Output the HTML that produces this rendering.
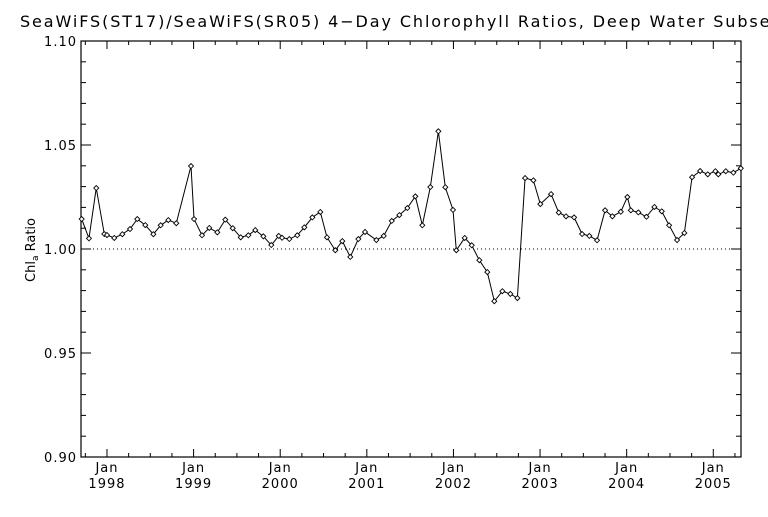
<!DOCTYPE html>
<html><head><meta charset="utf-8"><style>
body{margin:0;background:#fff;}
svg text{font-family:"DejaVu Sans","Liberation Sans",sans-serif;fill:#000;}
</style></head><body>
<svg id="chart" width="768" height="512" xmlns="http://www.w3.org/2000/svg">
<text x="20" y="27" font-size="16" letter-spacing="1.9">SeaWiFS(ST17)/SeaWiFS(SR05) 4−Day Chlorophyll Ratios, Deep Water Subset</text>
<text transform="translate(35,250) rotate(-90)" text-anchor="middle" font-size="13">Chl<tspan font-size="9" dy="3">a</tspan><tspan dy="-3"> Ratio</tspan></text>
<g id="axes"></g><g id="series"></g>
</svg>
<script>
const dates=[1997.708,1997.792,1997.876,1997.969,1998.000,1998.084,1998.177,1998.266,1998.350,1998.442,1998.535,1998.620,1998.708,1998.800,1998.970,1999.005,1999.097,1999.181,1999.274,1999.366,1999.452,1999.544,1999.632,1999.712,1999.805,1999.897,1999.983,2000.021,2000.105,2000.197,2000.278,2000.371,2000.463,2000.540,2000.636,2000.717,2000.809,2000.902,2000.979,2001.110,2001.195,2001.288,2001.375,2001.468,2001.560,2001.641,2001.733,2001.826,2001.906,2001.995,2002.033,2002.130,2002.211,2002.299,2002.391,2002.472,2002.565,2002.657,2002.738,2002.827,2002.923,2003.003,2003.127,2003.216,2003.300,2003.393,2003.485,2003.569,2003.658,2003.751,2003.835,2003.932,2004.008,2004.048,2004.135,2004.228,2004.320,2004.405,2004.490,2004.582,2004.666,2004.755,2004.848,2004.936,2005.024,2005.058,2005.144,2005.232,2005.318];
const ratios=[1.0144,1.0051,1.0293,1.0072,1.0067,1.0053,1.0071,1.0096,1.0144,1.0115,1.0071,1.0114,1.0139,1.0124,1.0399,1.0144,1.0066,1.0101,1.0080,1.0141,1.0100,1.0056,1.0066,1.0091,1.0061,1.0019,1.0063,1.0054,1.0048,1.0066,1.0104,1.0152,1.0178,1.0056,0.9994,1.0038,0.9962,1.0048,1.0082,1.0043,1.0063,1.0135,1.0163,1.0197,1.0253,1.0114,1.0298,1.0566,1.0297,1.0188,0.9994,1.0053,1.0018,0.9946,0.9889,0.9749,0.9797,0.9784,0.9764,1.0341,1.0330,1.0216,1.0264,1.0175,1.0157,1.0152,1.0072,1.0063,1.0042,1.0186,1.0157,1.0179,1.0250,1.0186,1.0176,1.0155,1.0202,1.0181,1.0114,1.0043,1.0077,1.0345,1.0375,1.0359,1.0374,1.0359,1.0374,1.0367,1.0388];
const yTickLabels=["0.90","0.95","1.00","1.05","1.10"];
const yearLabels=["1998","1999","2000","2001","2002","2003","2004","2005"];
const L=81,R=741,T=41,B=457,x0=1997.70,x1=2005.32,y0=0.90,y1=1.10;
const X=v=>L+(v-x0)/(x1-x0)*(R-L), Y=v=>B-(v-y0)/(y1-y0)*(B-T);
const NS="http://www.w3.org/2000/svg";
const ax=document.getElementById('axes'), se=document.getElementById('series');
function mk(p,tag,at){const e=document.createElementNS(NS,tag);for(const k in at)e.setAttribute(k,at[k]);p.appendChild(e);return e;}
const fr=mk(ax,'rect',{x:L,y:T,width:R-L,height:B-T,fill:'none',stroke:'#000','stroke-width':1.2});


for(let i=0;i<=20;i++){const v=y0+i*0.01,y=Y(v),len=i%5===0?10:5;
 mk(ax,'line',{x1:L,x2:L+len,y1:y,y2:y,stroke:'#000'});
 mk(ax,'line',{x1:R,x2:R-len,y1:y,y2:y,stroke:'#000'});}
yTickLabels.forEach(s=>{const t=mk(ax,'text',{x:L-4,y:Y(+s)+5,'text-anchor':'end','font-size':13,'letter-spacing':1});t.textContent=s;
 
 });
for(let q=1997.75;q<=x1;q+=0.25){const x=X(q),maj=Math.abs(q-Math.round(q))<0.01,len=maj?8:4;
 mk(ax,'line',{x1:x,x2:x,y1:B,y2:B-len,stroke:'#000'});
 mk(ax,'line',{x1:x,x2:x,y1:T,y2:T+len,stroke:'#000'});}
yearLabels.forEach(s=>{const x=X(+s);
 const a=mk(ax,'text',{x:x,y:472,'text-anchor':'middle','font-size':13,'letter-spacing':1});a.textContent='Jan';
 
 
 const b=mk(ax,'text',{x:x,y:488,'text-anchor':'middle','font-size':13,'letter-spacing':1});b.textContent=s;
 
 });
const ref=mk(ax,'line',{x1:L,x2:R,y1:Y(1),y2:Y(1),stroke:'#000','stroke-dasharray':'1,3'});


const line=mk(se,'polyline',{fill:'none',stroke:'#000','stroke-width':1,points:dates.map((d,i)=>X(d)+','+Y(ratios[i])).join(' ')});


dates.forEach((d,i)=>{const x=X(d),y=Y(ratios[i]);
 const m=mk(se,'polygon',{points:`${x},${y-2.5} ${x+2.5},${y} ${x},${y+2.5} ${x-2.5},${y}`,fill:'#fff',stroke:'#000','stroke-width':0.9});
 
 });
</script>
</body></html>
